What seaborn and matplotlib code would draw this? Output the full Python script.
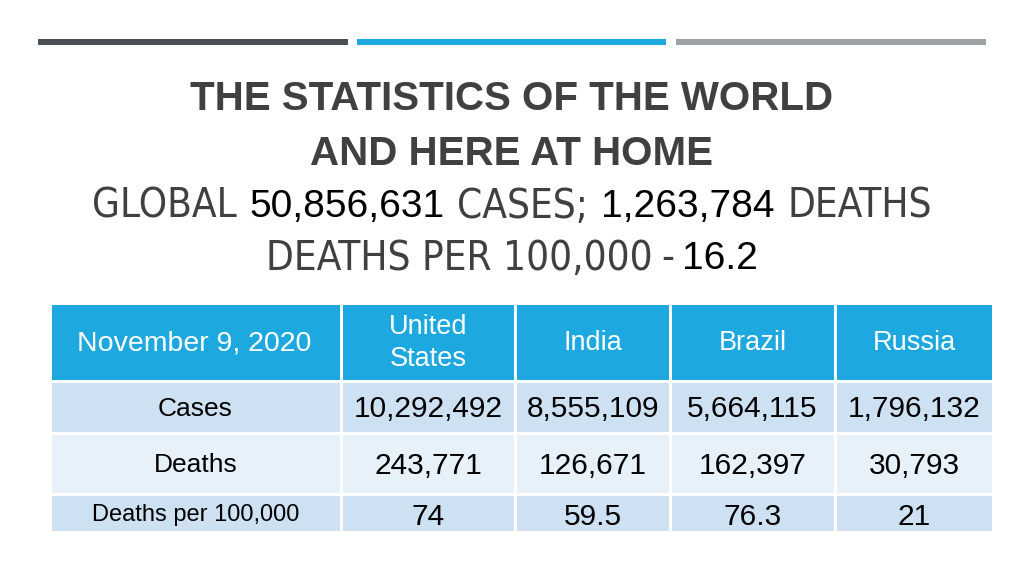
"""
Slide: COVID-19 statistics table, November 9, 2020
"""

import matplotlib
matplotlib.use("Agg")
import matplotlib.pyplot as plt
import numpy as np
import seaborn as sns

# Data
global_cases = 50856631
global_deaths = 1263784
global_rate = 16.2
date_label = "November 9, 2020"
countries = ["United\nStates", "India", "Brazil", "Russia"]
row_labels = ["Cases", "Deaths", "Deaths per 100,000"]
cases = [10292492, 8555109, 5664115, 1796132]
deaths = [243771, 126671, 162397, 30793]
per_100k = [74, 59.5, 76.3, 21]

# Colours
DARK = "#404040"
BLUE = "#1EA8E0"
ROW_DARK = "#CDE1F2"
ROW_LIGHT = "#E7F1FA"

sns.set_theme(style="white")
plt.rcParams["font.family"] = ["Liberation Sans", "DejaVu Sans"]

fig = plt.figure(figsize=(10.24, 5.76), dpi=100)
ax = fig.add_axes([0, 0, 1, 1])
ax.set_xlim(0, 1024)
ax.set_ylim(576, 0)
ax.axis("off")

# Top accent bars
for x0, x1, c in [(38, 348, "#4A5054"), (357, 666, BLUE), (676, 986, "#9EA3A6")]:
    ax.fill_between([x0, x1], 39, 45, color=c, lw=0)

# Title
title_font = dict(family=["Liberation Sans", "DejaVu Sans"], weight="bold",
                  fontsize=29, color=DARK, ha="center", va="center")
ax.text(512, 99, "THE STATISTICS OF THE WORLD", **title_font)
ax.text(512, 154, "AND HERE AT HOME", **title_font)

renderer = fig.canvas.get_renderer()


def text_line(parts, y, cx=512, gap=10):
    """Place differently styled pieces in one centred line."""
    objs = [ax.text(0, y, s, ha="left", va="center", **kw) for s, kw in parts]
    widths = [o.get_window_extent(renderer).width for o in objs]
    total = sum(widths) + gap * (len(objs) - 1)
    x = cx - total / 2
    for o, w in zip(objs, widths):
        o.set_x(x)
        x += w + gap


gray = dict(family=["DejaVu Sans"], fontstretch="condensed", fontsize=29, color=DARK)
num = dict(family=["Liberation Sans"], fontsize=28, color="black")
text_line([("GLOBAL", gray), (f"{global_cases:,}", num), ("CASES;", gray),
           (f"{global_deaths:,}", num), ("DEATHS", gray)], 207, gap=13)
text_line([("DEATHS PER 100,000", gray), ("-", gray), (f"{global_rate}", num)], 259, gap=8)

# Table
x_edges = np.array([50, 341, 515, 670, 835, 993])
y_edges = np.array([303, 381, 433, 494, 532])
shade = np.array([[0] * 5, [1] * 5, [2] * 5, [1] * 5])
cmap = matplotlib.colors.ListedColormap([BLUE, ROW_DARK, ROW_LIGHT])
ax.pcolormesh(x_edges, y_edges, shade, cmap=cmap, vmin=-0.5, vmax=2.5,
              edgecolors="white", linewidth=1.0)

xc = (x_edges[:-1] + x_edges[1:]) / 2
yc = (y_edges[:-1] + y_edges[1:]) / 2
cell = dict(family=["Liberation Sans"], ha="center", va="center")

ax.text(xc[0] - 1, yc[0] + 1, date_label, color="white", fontsize=20.5, **cell)
for x, name in zip(xc[1:], countries):
    ax.text(x, yc[0] + 1, name, color="white", fontsize=19.5, linespacing=1.25, **cell)

rows = [[f"{v:,}" for v in cases], [f"{v:,}" for v in deaths], [f"{v:g}" for v in per_100k]]
label_sizes = [19, 19, 17]
for i, (label, vals) in enumerate(zip(row_labels, rows)):
    y = yc[i + 1] + 2
    ax.text(xc[0], y, label, color="black", fontsize=label_sizes[i], **cell)
    for x, v in zip(xc[1:], vals):
        ax.text(x, y + (2 if i == 2 else 0), v, color="black", fontsize=21.5, **cell)

fig.savefig("out.png", dpi=100, facecolor="white")
